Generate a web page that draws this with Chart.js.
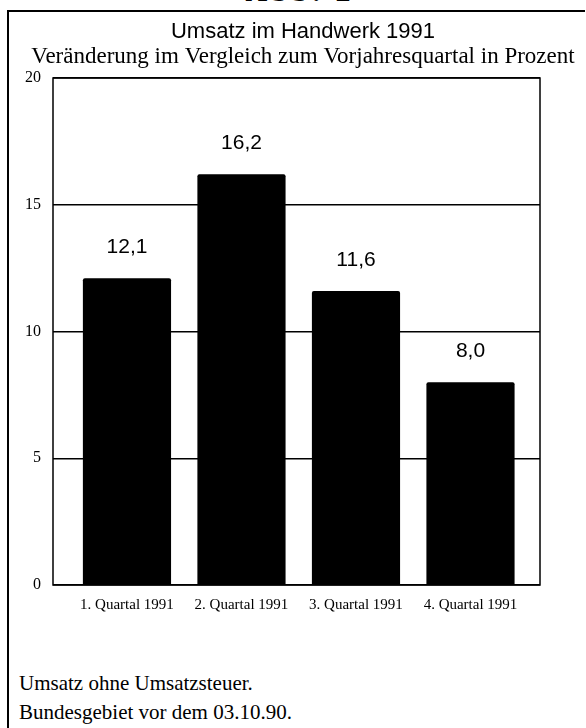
<!DOCTYPE html>
<html lang="de">
<head>
<meta charset="utf-8">
<title>Umsatz im Handwerk 1991</title>
<script src="https://cdn.jsdelivr.net/npm/chart.js@4.4.1/dist/chart.umd.min.js"></script>
<style>
    html, body { margin: 0; padding: 0; background: #fff; }
    body { width: 586px; height: 728px; position: relative; overflow: hidden; }
    .frame {
        position: absolute; left: 7px; top: 10px; width: 576px; height: 730px;
        border-left: 2px solid #000; border-top: 2px solid #000;
    }
    .abb {
        position: absolute; left: 0; width: 600px; top: -26px; text-align: center;
        font: bold 30px 'Liberation Serif', serif; letter-spacing: 4px;
    }
    #chartWrap { position: absolute; left: 0; top: 0; width: 586px; height: 620px; }
    .notes {
        position: absolute; left: 19px; top: 669px;
        font: 21px 'Liberation Serif', serif; line-height: 29px; color: #000;
    }
</style>
</head>
<body>
<div class="abb">Abb. 2</div>
<div class="frame"></div>
<div id="chartWrap"><canvas id="umsatzChart" width="586" height="620"></canvas></div>
<div class="notes">
    Umsatz ohne Umsatzsteuer.<br>
    Bundesgebiet vor dem 03.10.90.
</div>

<script>
/* ===== Data ===== */
const quarters = ['1. Quartal 1991', '2. Quartal 1991', '3. Quartal 1991', '4. Quartal 1991'];
const changePct = [12.1, 16.2, 11.6, 8.0];
const yTicks = [0, 5, 10, 15, 20];

/* German decimal comma */
const fmt = (v) => v.toFixed(1).replace('.', ',');

/* Value labels above each bar */
const barLabels = {
    id: 'barLabels',
    afterDatasetsDraw(chart) {
        const ctx = chart.ctx;
        const meta = chart.getDatasetMeta(0);
        ctx.save();
        ctx.fillStyle = '#000';
        ctx.font = '21px "Liberation Sans", Arial, sans-serif';
        ctx.textAlign = 'center';
        ctx.textBaseline = 'alphabetic';
        meta.data.forEach((bar, i) => {
            ctx.fillText(fmt(changePct[i]), bar.x, bar.y - 25);
        });
        ctx.restore();
    }
};

/* Box round the plot area, drawn under the bars */
const plotFrame = {
    id: 'plotFrame',
    beforeDatasetsDraw(chart) {
        const { ctx, chartArea: a } = chart;
        ctx.save();
        ctx.strokeStyle = '#000';
        ctx.lineWidth = 1.5;
        ctx.strokeRect(a.left, a.top, a.right - a.left, a.bottom - a.top);
        ctx.restore();
    }
};

new Chart(document.getElementById('umsatzChart'), {
    type: 'bar',
    data: {
        datasets: [{
            data: changePct.map((v, i) => ({ x: i + 1, y: v })),
            backgroundColor: '#000',
            borderWidth: 0,
            borderRadius: 2,
            borderSkipped: 'bottom',
            barPercentage: 0.77,
            categoryPercentage: 1
        }]
    },
    options: {
        responsive: false,
        animation: false,
        layout: { padding: { left: 20, right: 0, top: 0, bottom: 0 } },
        plugins: {
            legend: { display: false },
            tooltip: { enabled: false },
            title: {
                display: true,
                text: 'Umsatz im Handwerk 1991',
                color: '#000',
                font: { family: '"Liberation Sans", Arial, sans-serif', size: 22, weight: 'normal', lineHeight: 1 },
                padding: { top: 21, bottom: 0 }
            },
            subtitle: {
                display: true,
                text: 'Veränderung im Vergleich zum Vorjahresquartal in Prozent',
                color: '#000',
                font: { family: '"Liberation Serif", "Times New Roman", serif', size: 23, lineHeight: 1 },
                padding: { top: 2, bottom: 10 }
            }
        },
        scales: {
            x: {
                type: 'linear',
                offset: false,
                min: 0.354,
                max: 4.607,
                afterBuildTicks: (scale) => {
                    scale.ticks = quarters.map((_, i) => ({ value: i + 1 }));
                },
                afterFit: (scale) => { scale.height = 35; },
                ticks: {
                    callback: (v) => quarters[v - 1],
                    color: '#000',
                    padding: 11,
                    maxRotation: 0,
                    autoSkip: false,
                    font: { family: '"Liberation Serif", "Times New Roman", serif', size: 15 }
                },
                grid: { display: false, drawTicks: false },
                border: { display: false }
            },
            y: {
                min: 0,
                max: 20,
                afterBuildTicks: (scale) => {
                    scale.ticks = yTicks.map(v => ({ value: v }));
                },
                afterFit: (scale) => { scale.width = 33; },
                ticks: {
                    color: '#000',
                    padding: 12,
                    font: { family: '"Liberation Serif", "Times New Roman", serif', size: 16 }
                },
                grid: { color: '#000', lineWidth: 1.5, drawTicks: false },
                border: { display: false }
            },
            yRight: {
                position: 'right',
                display: true,
                afterFit: (scale) => { scale.width = 46; },
                ticks: { display: false },
                grid: { display: false, drawTicks: false },
                border: { display: false }
            }
        }
    },
    plugins: [plotFrame, barLabels]
});
</script>
</body>
</html>
